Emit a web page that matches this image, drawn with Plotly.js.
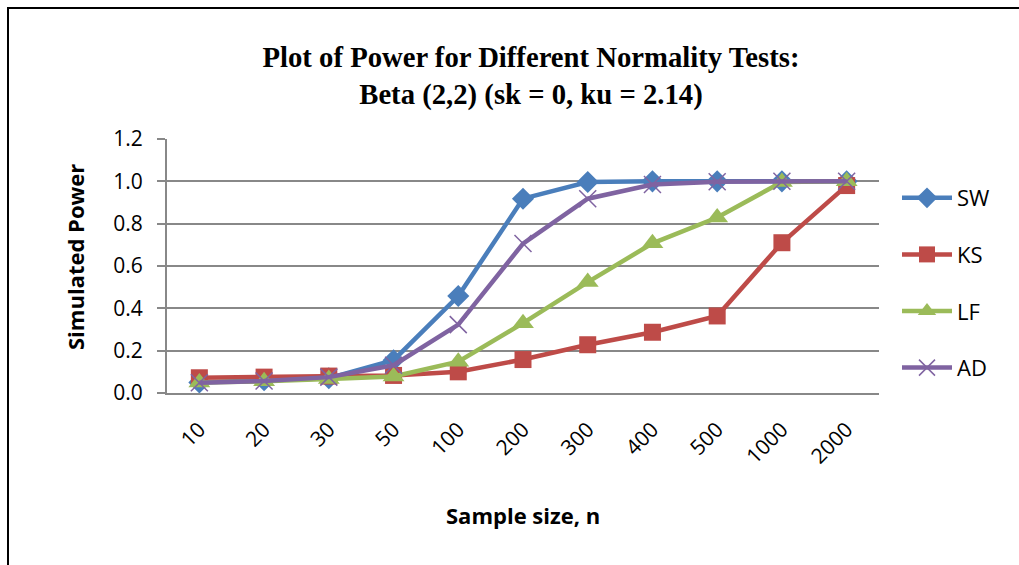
<!DOCTYPE html>
<html>
<head>
<meta charset="utf-8">
<script src="https://cdn.plot.ly/plotly-3.0.1.min.js"></script>
<style>
html,body{margin:0;padding:0;background:#fff;}
#chart{width:1019px;height:565px;}
</style>
</head>
<body>
<div id="chart"></div>
<script>
var sampleSizes = ["10","20","30","50","100","200","300","400","500","1000","2000"];
var sw = [0.05, 0.06, 0.07, 0.155, 0.458, 0.918, 0.997, 1.0, 1.0, 1.0, 1.0];
var ks = [0.072, 0.075, 0.08, 0.083, 0.1, 0.158, 0.228, 0.287, 0.364, 0.71, 0.98];
var lf = [0.05, 0.055, 0.066, 0.078, 0.148, 0.33, 0.524, 0.707, 0.829, 0.997, 1.0];
var ad = [0.048, 0.057, 0.075, 0.131, 0.323, 0.706, 0.918, 0.985, 0.998, 1.0, 1.0];

var seriesNames = ["SW", "KS", "LF", "AD"];

function mk(name, y, color, symbol, size, grp, mline) {
  return {
    type: 'scatter', mode: 'lines+markers', name: name, x: sampleSizes, y: y,
    legendgroup: grp,
    line: {color: color, width: 4.5},
    marker: {color: color, symbol: symbol, size: size, line: mline || {width: 0}},
    cliponaxis: false
  };
}

var traces = [
  mk(seriesNames[0], sw, '#4A7EBB', 'diamond', 17, 'g1'),
  mk(seriesNames[1], ks, '#BE4B48', 'square', 17, 'g2'),
  mk(seriesNames[2], lf, '#9BBB59', 'triangle-up', 19, 'g3'),
  mk(seriesNames[3], ad, '#7F63A1', 'x-thin-open', 17, 'g4', {color: '#7F63A1', width: 1.5})
];

var L = 167, R = 140, T = 139, B = 172, W = 1019, H = 565;
var pw = W - L - R, ph = H - T - B;
var sans = 'Open Sans, Liberation Sans, sans-serif';
function px(x) { return (x - L) / pw; }
function py(y) { return (T + ph - y) / ph; }

var layout = {
  width: W, height: H,
  margin: {l: L, r: R, t: T, b: B},
  paper_bgcolor: '#ffffff', plot_bgcolor: '#ffffff',
  showlegend: true,
  title: {
    text: '<b>Plot of Power for Different Normality Tests:<br>Beta (2,2) (sk = 0, ku = 2.14)</b>',
    font: {family: 'Liberation Serif, Times New Roman, serif', size: 28.7, color: '#000'},
    x: px(531), xref: 'paper', xanchor: 'center',
    y: 1 - 67 / H, yref: 'container', yanchor: 'middle'
  },
  xaxis: {
    type: 'category',
    tickangle: -45,
    tickfont: {family: sans, size: 21, color: '#000'},
    ticklabelstandoff: 14,
    showgrid: false,
    showline: true, linecolor: '#888', linewidth: 2,
    ticks: '',
    range: [-0.5, 10.5]
  },
  yaxis: {
    range: [0, 1.2], dtick: 0.2, tickformat: '.1f',
    tickfont: {family: sans, size: 21, color: '#000'},
    ticklabelstandoff: 10,
    showgrid: true, gridcolor: '#888', gridwidth: 2,
    showline: true, linecolor: '#888', linewidth: 2,
    ticks: 'outside', ticklen: 8, tickcolor: '#888', tickwidth: 2,
    zeroline: false
  },
  annotations: [
    {text: '<b>Simulated Power</b>', xref: 'paper', yref: 'paper', x: px(75), y: py(257),
     xanchor: 'center', yanchor: 'middle', textangle: -90, showarrow: false,
     font: {family: sans, size: 22, color: '#000'}},
    {text: '<b>Sample size, n</b>', xref: 'paper', yref: 'paper', x: px(523), y: py(515),
     xanchor: 'center', yanchor: 'middle', showarrow: false,
     font: {family: sans, size: 22, color: '#000'}}
  ],
  legend: {
    x: px(897), xanchor: 'left', y: py(177), yanchor: 'top',
    font: {family: sans, size: 22, color: '#000'},
    tracegroupgap: 25,
    bgcolor: 'rgba(0,0,0,0)',
    itemwidth: 50
  },
  shapes: [{
    type: 'rect', xref: 'paper', yref: 'paper',
    x0: px(8), x1: px(1030),
    y0: py(575), y1: py(8),
    line: {color: '#000', width: 2}, fillcolor: 'rgba(0,0,0,0)', layer: 'below'
  }]
};

Plotly.newPlot('chart', traces, layout, {displayModeBar: false, staticPlot: true});
</script>
</body>
</html>
